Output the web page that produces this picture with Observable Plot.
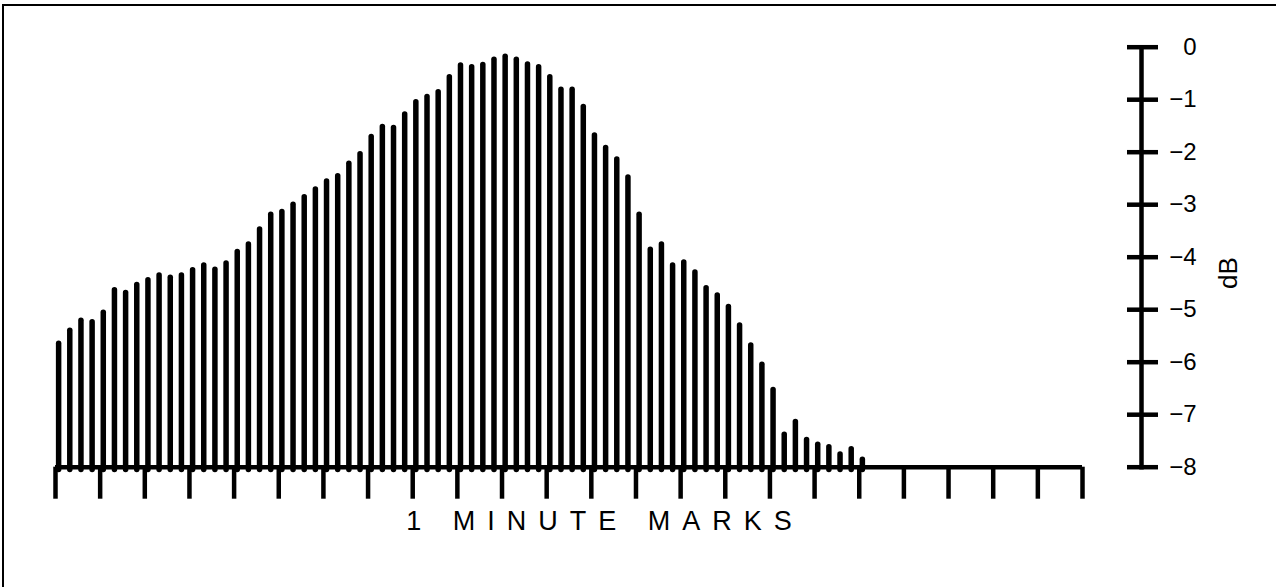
<!DOCTYPE html>
<html><head><meta charset="utf-8">
<script src="https://cdn.jsdelivr.net/npm/d3@7"></script>
<script src="https://cdn.jsdelivr.net/npm/@observablehq/plot@0.6"></script>
<style>
html,body{margin:0;padding:0;background:#fff;}
#wrap{position:relative;width:1276px;height:587px;overflow:hidden;}
#border{position:absolute;left:2px;top:4px;right:-10px;bottom:-10px;border-top:2px solid #000;border-left:2px solid #000;pointer-events:none;}
</style></head><body>
<div id="wrap"><div id="border"></div></div>
<script>
// Level of each 15-second sample, dB
const barLevelsDb = [-5.65, -5.40, -5.21, -5.24, -5.06, -4.63, -4.68, -4.53, -4.44, -4.35,
  -4.39, -4.35, -4.25, -4.16, -4.24, -4.12, -3.90, -3.76, -3.47, -3.19,
  -3.14, -3.00, -2.86, -2.71, -2.56, -2.46, -2.22, -2.04, -1.71, -1.52,
  -1.54, -1.28, -1.05, -0.95, -0.86, -0.57, -0.35, -0.38, -0.34, -0.24,
  -0.18, -0.24, -0.33, -0.38, -0.57, -0.81, -0.81, -1.14, -1.68, -1.92,
  -2.14, -2.48, -3.19, -3.86, -3.76, -4.16, -4.10, -4.29, -4.59, -4.73,
  -4.95, -5.30, -5.68, -6.05, -6.53, -7.38, -7.14, -7.48, -7.57, -7.62,
  -7.76, -7.66, -7.86];
const firstBarMinute = 0.07;
const barStepMinutes = 0.25;
const minuteMarks = [0, 1, 2, 3, 4, 5, 6, 7, 8, 9, 10, 11, 12, 13, 14, 15, 16, 17, 18, 19, 20, 21, 22, 23];
const dbTicks = [0, -1, -2, -3, -4, -5, -6, -7, -8];
const xLabel = "1 MINUTE MARKS";
const yLabel = "dB";

const bars = barLevelsDb.map((db, i) => ({minute: firstBarMinute + i * barStepMinutes, db}));
const fmt = d3.format("d");

const chart = Plot.plot({
  width: 1276, height: 587,
  marginLeft: 55, marginRight: 194, marginTop: 46.7, marginBottom: 120.3,
  style: {fontFamily: "'Liberation Sans', Arial, sans-serif", background: "transparent", color: "#000"},
  x: {domain: [0, 23], label: null},
  y: {domain: [-8, 0], label: null},
  marks: [
    Plot.ruleX(bars, {x: "minute", y1: -8, y2: "db", stroke: "#000", strokeWidth: 5.5, strokeLinecap: "round", insetTop: 2.7}),
    Plot.ruleY([-8], {stroke: "#000", strokeWidth: 4.5}),
    Plot.axisX(minuteMarks, {tickSize: 32, strokeWidth: 4.5, fill: "none", label: null}),
    Plot.frame({anchor: "right", insetRight: -59, stroke: "#000", strokeWidth: 4.5}),
    Plot.axisY(dbTicks, {anchor: "right", dx: 44, tickSize: 31, strokeWidth: 4.5, fill: "none", label: null}),
    Plot.text(dbTicks, {y: d => d, text: d => fmt(d), frameAnchor: "right", dx: 114, textAnchor: "end", fontSize: 24}),
    Plot.text([yLabel], {frameAnchor: "right", dx: 146, rotate: -90, fontSize: 26}),
    Plot.text([xLabel], {frameAnchor: "bottom", dx: 36, dy: 63, fontSize: 27})
  ]
});
chart.querySelectorAll("text").forEach(t => {
  if (t.textContent === xLabel) t.setAttribute("letter-spacing", "12");
});
document.getElementById("wrap").prepend(chart);
</script>
</body></html>
